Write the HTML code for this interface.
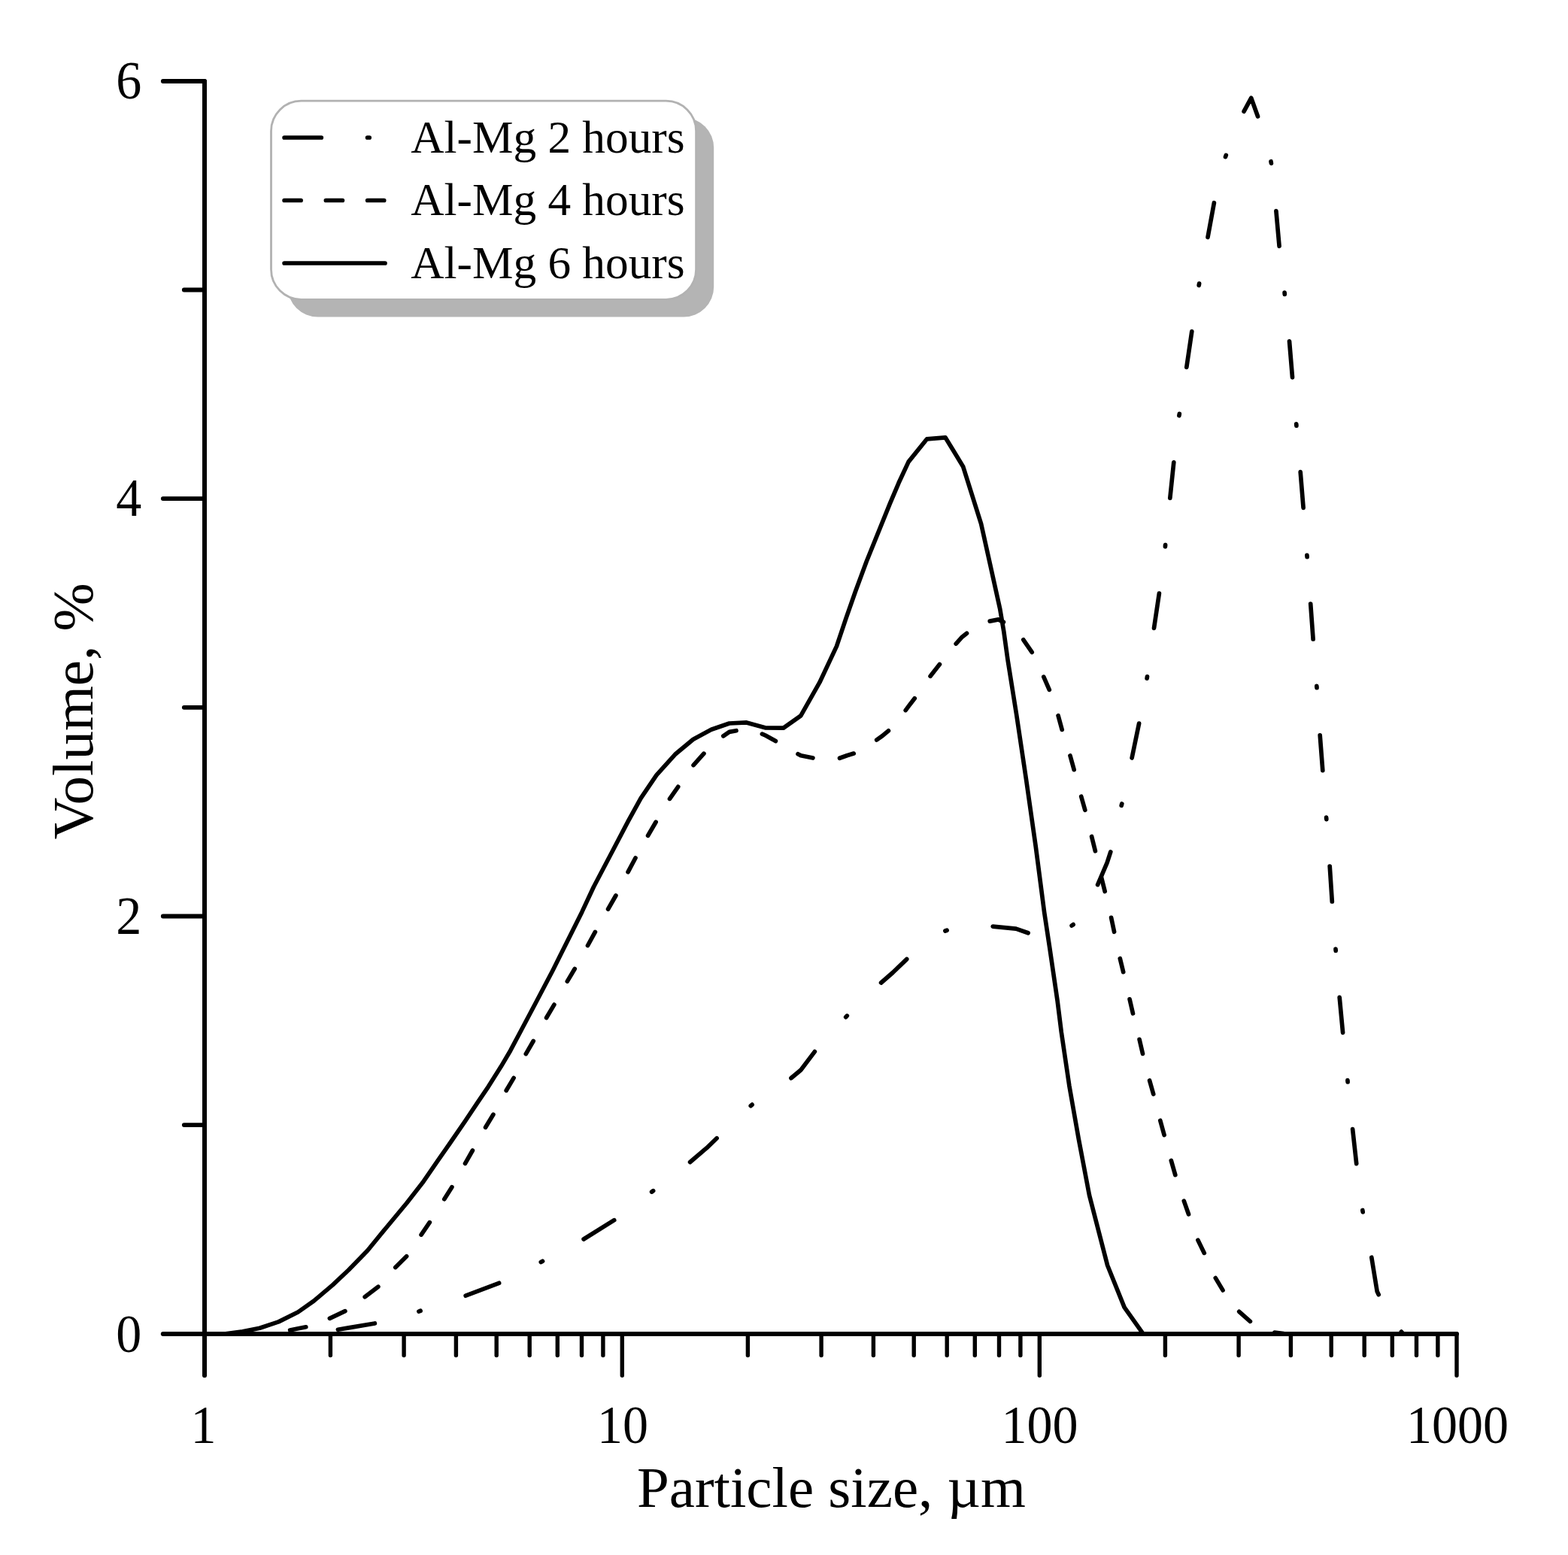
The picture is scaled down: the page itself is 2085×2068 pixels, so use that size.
<!DOCTYPE html>
<html lang="en">
<head>
<meta charset="utf-8">
<title>Particle size distribution</title>
<style>
html,body{margin:0;padding:0;background:#fff;}
body{width:2085px;height:2068px;overflow:hidden;font-family:"Liberation Serif",serif;}
svg{display:block;}
</style>
</head>
<body>
<svg width="2085" height="2068" viewBox="0 0 2085 2068">
<rect width="2085" height="2068" fill="#fff"/>
<rect x="382.5" y="156.5" width="566.7" height="265" rx="40" ry="40" fill="#b4b4b4"/>
<rect x="360.5" y="134.2" width="565.1" height="264.1" rx="40" ry="40" fill="#fff" stroke="#b2b2b2" stroke-width="2.8"/>
<g fill="none" stroke="#000" stroke-width="6" stroke-linecap="round">
<path d="M272.0 108.0V1829.2"/>
<path d="M216.8 1774.0H1937.0"/>
<path d="M244.8 1496.1H272.0 M216.8 1218.5H272.0 M244.8 940.8H272.0 M216.8 663.1H272.0 M244.8 385.5H272.0 M216.8 108.0H272.0" stroke-width="5.8"/>
<path d="M439.4 1774.0v28.6 M537.1 1774.0v28.6 M606.4 1774.0v28.6 M660.2 1774.0v28.6 M704.2 1774.0v28.6 M741.3 1774.0v28.6 M773.5 1774.0v28.6 M801.9 1774.0v28.6 M827.3 1774.0v55.2 M994.4 1774.0v28.6 M1092.1 1774.0v28.6 M1161.4 1774.0v28.6 M1215.2 1774.0v28.6 M1259.2 1774.0v28.6 M1296.3 1774.0v28.6 M1328.5 1774.0v28.6 M1356.9 1774.0v28.6 M1382.3 1774.0v55.2 M1549.4 1774.0v28.6 M1647.1 1774.0v28.6 M1716.4 1774.0v28.6 M1770.2 1774.0v28.6 M1814.2 1774.0v28.6 M1851.3 1774.0v28.6 M1883.5 1774.0v28.6 M1911.9 1774.0v28.6 M1937.0 1774.0v55.2" stroke-width="5.4"/>
</g>
<g fill="none" stroke="#000" stroke-width="5.7" stroke-linecap="round" stroke-linejoin="round">
<path d="M300.0 1773.8 L322.6 1770.9 L345.3 1766.2 L370.4 1757.9 L396.2 1745.0 L417.3 1730.2 L442.4 1708.9 L463.5 1689.0 L488.6 1663.2 L513.6 1632.7 L541.0 1599.8 L561.8 1573.1 L582.6 1542.8 L597.2 1522.0 L618.1 1491.7 L634.8 1466.6 L649.4 1445.1 L666.1 1418.6 L678.7 1397.2 L693.4 1369.5 L712.2 1334.0 L735.2 1290.2 L762.3 1235.9 L773.8 1212.9 L789.4 1179.5 L812.4 1135.7 L835.4 1091.9 L852.1 1061.6 L872.9 1030.9 L897.7 1003.3 L921.8 983.3 L945.8 970.3 L969.8 962.0 L992.7 960.9 L1017.4 967.8 L1041.8 968.2 L1064.8 951.9 L1089.8 907.7 L1112.5 859.4 L1125.1 821.8 L1137.6 786.3 L1152.2 746.7 L1183.5 669.4 L1195.0 642.3 L1208.1 614.1 L1232.6 583.8 L1257.0 581.8 L1280.6 620.4 L1304.6 696.6 L1317.1 752.9 L1329.6 809.3 L1334.9 840.6 L1340.1 878.2 L1351.6 950.1 L1364.7 1037.8 L1377.2 1125.5 L1388.6 1213.2 L1395.7 1260.0 L1406.1 1331.0 L1411.3 1372.7 L1421.8 1443.7 L1434.3 1514.7 L1448.5 1589.5 L1472.6 1682.7 L1495.1 1738.6 L1519.2 1772.7"/>
<path d="M385.6 1769.0 L394.2 1767.3 L406.8 1764.8 M438.4 1753.3 L458.9 1743.7 M485.2 1724.8 L502.9 1711.2 M525.8 1685.5 L540.6 1670.7 M560.1 1642.1 L571.3 1625.7 M590.8 1594.7 L600.9 1578.7 M618.5 1547.3 L628.4 1530.0 M645.6 1499.3 L655.9 1482.2 M673.2 1450.2 L683.1 1433.6 M699.3 1401.6 L709.2 1384.5 M726.6 1353.5 L736.9 1336.1 M754.3 1305.1 L764.2 1288.5 M781.5 1257.5 L791.4 1239.4 M808.6 1209.0 L818.9 1191.0 M835.1 1159.7 L845.0 1141.0 M861.6 1111.3 L872.1 1093.3 M890.5 1062.3 L901.7 1046.3 M922.1 1017.6 L935.9 1002.2 M961.8 978.8 L969.8 973.4 L979.0 971.7 M1013.4 976.1 L1017.8 978.0 L1031.4 985.6 M1061.0 1002.8 L1064.8 1004.8 L1080.9 1008.0 M1116.5 1008.3 L1126.3 1004.8 L1135.2 1002.1 M1165.7 984.0 L1173.3 978.7 L1181.4 971.8 M1204.2 944.6 L1209.9 936.9 L1216.2 928.8 M1237.1 899.3 L1249.4 883.6 M1271.2 856.1 L1279.5 846.9 L1285.5 842.3 M1316.2 826.1 L1327.6 823.9 L1334.4 827.4 M1360.8 850.8 L1372.2 867.4 M1387.8 900.2 L1395.3 917.4 M1407.1 951.7 L1412.2 970.4 M1423.0 1004.9 L1428.2 1023.7 M1437.7 1059.2 L1442.8 1077.3 M1451.6 1112.5 L1456.4 1131.8 M1464.5 1166.7 L1469.2 1185.5 M1477.6 1220.4 L1481.6 1239.3 M1489.3 1274.7 L1493.7 1292.7 M1502.1 1328.8 L1506.5 1347.8 M1515.1 1382.3 L1519.5 1401.4 M1528.6 1437.0 L1533.7 1455.1 M1542.8 1490.2 L1548.1 1509.5 M1557.3 1543.4 L1562.8 1562.6 M1574.3 1597.1 L1580.5 1614.8 M1592.9 1649.3 L1601.3 1666.4 M1616.3 1699.6 L1626.0 1715.9 M1647.7 1744.3 L1662.4 1757.3 M1694.7 1772.1 L1707.0 1773.6"/>
<path d="M449.4 1768.2 L463.5 1765.9 L498.4 1760.0 M619.2 1723.2 L663.6 1706.3 M776.1 1648.0 L816.7 1622.7 M917.6 1545.5 L939.7 1526.7 L953.1 1513.8 M1052.0 1433.8 L1064.9 1423.0 L1083.3 1398.6 M1171.6 1307.0 L1187.1 1293.5 L1205.7 1275.6 M1320.2 1232.1 L1351.0 1235.1 L1367.1 1240.8 M1459.6 1176.6 L1472.1 1147.4 L1476.8 1132.9 M1505.1 1008.0 L1514.6 962.1 M1534.5 835.4 L1541.4 789.1 M1555.8 662.5 L1560.8 614.8 M1577.8 488.4 L1584.8 440.8 M1606.0 315.5 L1614.4 269.7 M1654.1 148.2 L1663.7 130.3 L1672.5 154.8 M1696.9 280.5 L1701.1 327.4 M1714.5 453.8 L1718.5 501.8 M1729.2 627.7 L1733.1 675.3 M1742.7 803.1 L1746.1 850.0 M1755.2 977.9 L1758.8 1024.6 M1768.2 1152.0 L1771.3 1199.0 M1781.2 1326.4 L1785.6 1373.3 M1798.6 1501.6 L1803.7 1547.6 M1823.8 1672.2 L1831.2 1717.6 L1833.2 1721.7"/>
<path d="M556.9 1744.1 L559.1 1743.3 M719.3 1678.5 L721.5 1677.3 M866.6 1585.1 L868.6 1583.7 M998.3 1470.7 L1000.1 1469.1 M1124.7 1352.7 L1126.3 1350.9 M1256.9 1238.0 L1259.1 1237.2 M1425.1 1231.0 L1427.1 1229.6 M1491.2 1071.3 L1491.8 1068.9 M1525.1 902.2 L1525.5 899.8 M1549.4 726.9 L1549.6 724.5 M1567.9 552.8 L1568.3 550.4 M1594.2 379.5 L1594.6 377.1 M1629.5 208.6 L1630.3 206.4 M1690.0 214.7 L1690.4 217.1 M1708.1 389.0 L1708.3 391.4 M1723.7 563.8 L1723.9 566.2 M1737.9 738.3 L1738.1 740.7 M1750.8 912.3 L1751.0 914.7 M1763.6 1087.2 L1763.8 1089.6 M1776.0 1262.0 L1776.2 1264.4 M1791.9 1436.6 L1792.1 1439.0 M1811.8 1609.5 L1812.2 1611.9 M1863.4 1771.1 L1865.0 1772.9"/>
<path d="M378.1 183H427.3M488.6 183h2.6"/>
<path d="M378.1 266.5h22m33.3 0h22m33.3 0h22"/>
<path d="M378.1 350H512"/>
</g>
<g font-family="'Liberation Serif', 'Times New Roman', serif" fill="#000">
<text transform="translate(188.3 1797.7) scale(0.945 1.0)" font-size="72" text-anchor="end">0</text>
<text transform="translate(188.3 1241.7) scale(0.945 1.0)" font-size="72" text-anchor="end">2</text>
<text transform="translate(188.3 685.9) scale(0.945 1.0)" font-size="72" text-anchor="end">4</text>
<text transform="translate(188.3 131.2) scale(0.945 1.0)" font-size="72" text-anchor="end">6</text>
<text transform="translate(270.5 1918.8) scale(0.945 1.0)" font-size="72" text-anchor="middle">1</text>
<text transform="translate(827.9 1918.8) scale(0.945 1.0)" font-size="72" text-anchor="middle">10</text>
<text transform="translate(1382.5 1918.8) scale(0.945 1.0)" font-size="72" text-anchor="middle">100</text>
<text transform="translate(1938.0 1918.8) scale(0.945 1.0)" font-size="72" text-anchor="middle">1000</text>
<text transform="translate(546.2 202.7)" font-size="61.3" text-anchor="start">Al-Mg 2 hours</text>
<text transform="translate(546.2 286.2)" font-size="61.3" text-anchor="start">Al-Mg 4 hours</text>
<text transform="translate(546.2 369.7)" font-size="61.3" text-anchor="start">Al-Mg 6 hours</text>
<text transform="translate(1105.4 2004)" font-size="77.0" text-anchor="middle">Particle size, µm</text>
<text transform="translate(123.2 945.8) rotate(-90)" font-size="77.0" text-anchor="middle">Volume, %</text>
</g>
</svg>
</body>
</html>
